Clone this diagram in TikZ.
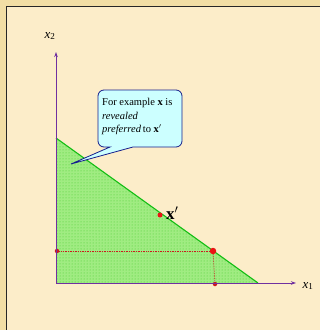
\documentclass[tikz,border=0pt]{standalone}
\usepackage{fontspec}
\setmainfont{Liberation Serif}
\usetikzlibrary{patterns,arrows.meta}
\definecolor{outerbg}{RGB}{242,222,165}
\definecolor{innerbg}{RGB}{252,237,201}
\definecolor{axiscol}{RGB}{112,48,160}
\definecolor{budget}{RGB}{20,190,20}
\definecolor{fillg}{RGB}{160,236,130}
\definecolor{dotg}{RGB}{70,205,45}
\definecolor{callfill}{RGB}{204,255,255}
\definecolor{callline}{RGB}{20,30,140}
\definecolor{ptred}{RGB}{235,20,20}
\definecolor{darkred}{RGB}{205,25,30}
\tikzset{
  axis/.style={draw=axiscol, line width=0.9pt, -{Stealth[length=5pt,width=3.5pt]}},
  guide/.style={draw=darkred, densely dotted, line width=0.7pt},
  bigdot/.style={circle, fill=ptred, inner sep=0pt, minimum size=6.5pt},
  smalldot/.style={circle, fill=darkred, inner sep=0pt, minimum size=4.5pt},
  lbl/.style={font=\fontsize{13}{13}\selectfont\itshape, inner sep=0pt}
}
\begin{document}
\begin{tikzpicture}[x=1pt,y=-1pt]
\useasboundingbox (0,0) rectangle (320,330);
\fill[outerbg] (0,0) rectangle (320,330);
\fill[innerbg] (6.5,6.5) rectangle (320,330);
\draw[black!85, line width=1pt] (6.5,330) -- (6.5,6.5) -- (320,6.5);
% key points
\coordinate (O) at (56,283);
\coordinate (A) at (56,138);
\coordinate (B) at (258,283);
\coordinate (Yend) at (56,52);
\coordinate (Xend) at (296,283);
% budget set
\fill[fillg] (O) -- (A) -- (B) -- cycle;
\fill[pattern=dots, pattern color=dotg] (O) -- (A) -- (B) -- cycle;
\draw[budget, line width=1.1pt] (A) -- (B);
% guides
\node[bigdot] (P) at (213,251) {};
\node[smalldot] (Py) at (57,251) {};
\node[smalldot] (Px) at (215,284) {};
\draw[guide] (Py) -- (P);
\draw[guide] (P) -- (Px);
% axes
\draw[axis] (O) -- (Yend);
\draw[axis] (O) -- (Xend);
\node[lbl] (x1) at (308,286) {x\textsubscript{\upshape 1}};
\node[lbl] (x2) at (50,36) {x\textsubscript{\upshape 2}};
% x'
\node[circle, fill=ptred, inner sep=0pt, minimum size=5pt] (Q) at (160,215) {};
\node[font=\fontsize{17}{17}\selectfont\bfseries, inner sep=0pt, anchor=west] (Ql) at (166,213) {x$'$};
% callout
\draw[callline, line width=0.8pt, fill=callfill]
  (110,147) -- (104,147) arc[start angle=90, end angle=180, radius=6] -- (98,96)
  arc[start angle=180, end angle=270, radius=6] -- (176,90)
  arc[start angle=270, end angle=360, radius=6] -- (182,141)
  arc[start angle=0, end angle=90, radius=6] -- (133,147) -- (71,164) -- cycle;
\node[anchor=west, align=left, inner sep=0pt, font=\fontsize{10.5}{13.5}\selectfont] (txt) at (102,116.5)
  {For example \textbf{x} is\\ \textit{revealed}\\ \textit{preferred}\,to \textbf{x$'$}};
\end{tikzpicture}
\end{document}
